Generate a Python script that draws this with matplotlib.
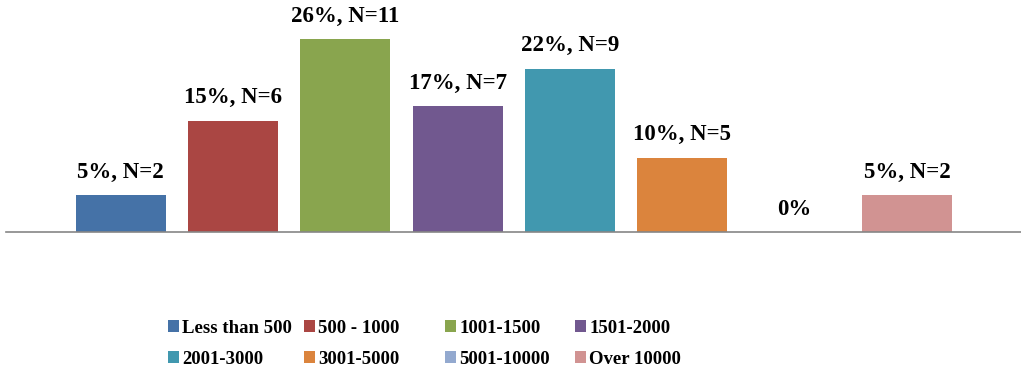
import matplotlib
matplotlib.use("Agg")
import matplotlib.pyplot as plt
from matplotlib.patches import Patch
import numpy as np

categories = ["Less than 500", "500 - 1000", "1001-1500", "1501-2000",
              "2001-3000", "3001-5000", "5001-10000", "Over 10000"]
percents = [5, 15, 26, 17, 22, 10, 0, 5]
counts = [2, 6, 11, 7, 9, 5, 0, 2]
colors = ["#4572A7", "#AA4643", "#89A54E", "#71588F",
          "#4198AF", "#DB843D", "#93A9CF", "#D19392"]

W, H = 1021, 367
fig = plt.figure(figsize=(W / 100, H / 100), dpi=100)
ax = fig.add_axes([6 / W, (H - 232) / H, 1 - 6 / W, 232 / H])

x = np.arange(len(categories))
ax.bar(x, percents, width=0.8, color=colors)
ax.set_xlim(-1.02, 8.015)
ax.set_ylim(0, 232 / 7.42)

font = dict(family="Liberation Serif", weight="bold")
for xi, p, n in zip(x, percents, counts):
    lab = f"{p}%, N={n}" if n > 0 else f"{p}%"
    ax.annotate(lab, (xi, p), xytext=(0, 12.5), textcoords="offset points",
                ha="center", va="baseline", fontsize=16.5, color="black", **font)

for s in ["top", "left", "right"]:
    ax.spines[s].set_visible(False)
ax.spines["bottom"].set_color("#868686")
ax.spines["bottom"].set_linewidth(1.2)
ax.set_xticks([])
ax.set_yticks([])
ax.patch.set_alpha(0)

col_x = [168, 304, 445, 575]
ncol = 4
for j in range(ncol):
    idxs = [j, j + ncol]
    handles = [Patch(facecolor=colors[i], edgecolor="none") for i in idxs]
    labels = [categories[i] for i in idxs]
    fig.legend(handles, labels, loc="upper left",
               bbox_to_anchor=(col_x[j] / W, 1 - 320 / H),
               frameon=False, ncol=1,
               prop=dict(family="Liberation Serif", weight="bold", size=13.5),
               handlelength=0.6, handleheight=0.6, handletextpad=0.15,
               labelspacing=0.72, borderpad=0, borderaxespad=0)

fig.savefig("out.png", dpi=100)
